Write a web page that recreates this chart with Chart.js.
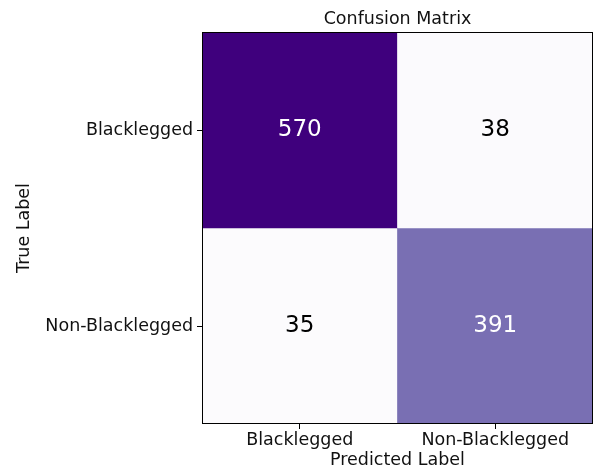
<!DOCTYPE html>
<html>
<head>
<meta charset="utf-8">
<script src="https://cdn.jsdelivr.net/npm/chart.js@4.4.0/dist/chart.umd.min.js"></script>
<style>
  html, body { margin: 0; padding: 0; background: #fff; }
  #wrap { width: 594px; height: 471px; }
</style>
</head>
<body>
<div id="wrap"><canvas id="matrix" width="594" height="471"></canvas></div>
<script>
// labels for both axes
const classLabels = ['Blacklegged', 'Non-Blacklegged'];
// one array per true-label row, columns = predicted label
const rowBlacklegged = [570, 38];
const rowNonBlacklegged = [35, 391];

const rows = [rowBlacklegged, rowNonBlacklegged];
const allValues = rows.flat();
const vMin = Math.min(...allValues);
const vMax = Math.max(...allValues);

// matplotlib "Purples"
const purples = ['#fcfbfd', '#efedf5', '#dadaeb', '#bcbddc', '#9e9ac8', '#807dba', '#6a51a3', '#54278f', '#3f007d'];

function hexToRgb(h) {
  return [1, 3, 5].map(i => parseInt(h.slice(i, i + 2), 16));
}

function colorFor(v) {
  const t = (v - vMin) / (vMax - vMin);
  const pos = t * (purples.length - 1);
  const i = Math.min(Math.floor(pos), purples.length - 2);
  const f = pos - i;
  const a = hexToRgb(purples[i]);
  const b = hexToRgb(purples[i + 1]);
  const c = a.map((x, k) => Math.round(x + (b[k] - x) * f));
  return `rgb(${c[0]},${c[1]},${c[2]})`;
}

const font = 'DejaVu Sans';
const textColor = '#111';

const cellText = {
  id: 'cellText',
  afterDatasetsDraw(chart) {
    const ctx = chart.ctx;
    const area = chart.chartArea;
    ctx.save();
    // spines
    ctx.strokeStyle = '#000';
    ctx.lineWidth = 1;
    ctx.strokeRect(area.left + 0.5, area.top + 0.5, area.right - area.left - 1, area.bottom - area.top - 1);
    ctx.font = `23px "${font}"`;
    ctx.textAlign = 'center';
    ctx.textBaseline = 'middle';
    chart.data.datasets.forEach((ds, r) => {
      const meta = chart.getDatasetMeta(r);
      meta.data.forEach((el, c) => {
        const v = rows[r][c];
        const p = el.getCenterPoint();
        ctx.fillStyle = v > vMax / 2 ? '#ffffff' : '#000000';
        ctx.fillText(String(v), p.x, p.y);
      });
    });
    ctx.restore();
  }
};

const datasets = rows.map((row, r) => ({
  label: classLabels[r],
  data: row.map(() => [r, r + 1]),
  backgroundColor: row.map(colorFor),
  borderWidth: 0,
  barPercentage: 1,
  categoryPercentage: 1,
  grouped: false
}));

new Chart(document.getElementById('matrix').getContext('2d'), {
  type: 'bar',
  data: { labels: classLabels, datasets },
  options: {
    responsive: false,
    animation: false,
    layout: { padding: { right: 1 } },
    plugins: {
      legend: { display: false },
      tooltip: { enabled: false },
      title: {
        display: true,
        fullSize: false,
        text: 'Confusion Matrix',
        color: textColor,
        font: { family: font, size: 17.5, weight: 'normal' },
        padding: { top: 9, bottom: 2 }
      }
    },
    scales: {
      x: {
        type: 'category',
        offset: true,
        afterFit: s => { s.height = 47; },
        grid: { offset: false, drawOnChartArea: false, tickLength: 5, color: '#000' },
        border: { display: false },
        ticks: { color: textColor, padding: 1, font: { family: font, size: 17.5 } },
        title: {
          display: true,
          text: 'Predicted Label',
          color: textColor,
          font: { family: font, size: 17.5 },
          padding: { top: 0, bottom: 0.5 }
        }
      },
      y: {
        type: 'linear',
        min: 0,
        max: 2,
        reverse: true,
        afterFit: s => { s.width = 202; },
        afterBuildTicks: s => { s.ticks = [{ value: 0.5 }, { value: 1.5 }]; },
        grid: { drawOnChartArea: false, tickLength: 5, color: '#000' },
        border: { display: false },
        ticks: {
          color: textColor,
          padding: 4,
          font: { family: font, size: 17.5 },
          callback: (v, i) => classLabels[i]
        },
        title: {
          display: true,
          text: 'True Label',
          color: textColor,
          font: { family: font, size: 17.5 },
          padding: { top: 14, bottom: 0 }
        }
      }
    }
  },
  plugins: [cellText]
});
</script>
</body>
</html>
